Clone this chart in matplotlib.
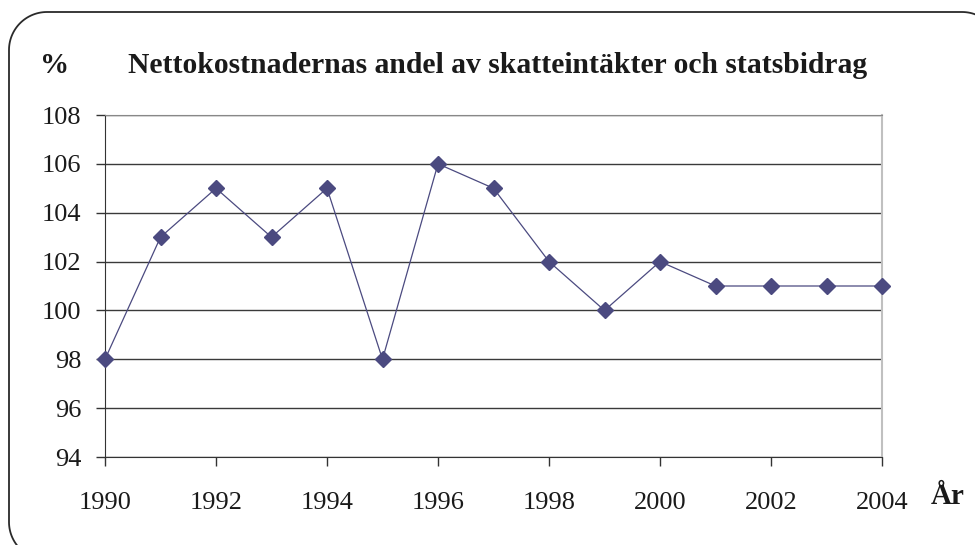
import matplotlib
matplotlib.use("Agg")
import matplotlib.pyplot as plt
import numpy as np
from matplotlib.lines import Line2D

years = [1990, 1991, 1992, 1993, 1994, 1995, 1996, 1997, 1998, 1999, 2000, 2001, 2002, 2003, 2004]
values = [98, 103, 105, 103, 105, 98, 106, 105, 102, 100, 102, 101, 101, 101, 101]
yticks = [94, 96, 98, 100, 102, 104, 106, 108]
xticks = [1990, 1992, 1994, 1996, 1998, 2000, 2002, 2004]
title = "Nettokostnadernas andel av skatteintäkter och statsbidrag"

plt.rcParams['font.family'] = ['Liberation Serif', 'DejaVu Serif']

fig = plt.figure(figsize=(9.75, 5.45), dpi=100)
W, H = 975, 545

# rounded frame in pixel coordinates (y from top), running off the right and bottom edges
x0, y0, x1, y1, r = 9, 12, 1000, 560, 38
def arc(cx, cy, a0, a1, n=30):
    t = np.radians(np.linspace(a0, a1, n))
    return cx + r * np.cos(t), cy + r * np.sin(t)
segs = []
xa, ya = arc(x1 - r, y0 + r, -90, 0)          # top-right
xb, yb = arc(x0 + r, y0 + r, -90, -180)       # top-left
xc, yc = arc(x0 + r, y1 - r, 180, 90)         # bottom-left
xs = np.concatenate([xa[::-1], xb, xc])
ys = np.concatenate([ya[::-1], yb, yc])
fig.add_artist(Line2D(xs / W, 1 - ys / H, transform=fig.transFigure,
                      color="#2a2a2a", linewidth=1.3, clip_on=False))

ax = fig.add_axes([105 / W, 1 - 457 / H, (882 - 105) / W, (457 - 115) / H])
ax.plot(years, values, color="#4b4a80", linewidth=0.9, marker="D",
        markersize=8.5, markerfacecolor="#4b4a80", markeredgecolor="#4b4a80",
        clip_on=False, zorder=3)

ax.set_xlim(1990, 2004)
ax.set_ylim(94, 108)
ax.set_yticks(yticks)
ax.set_xticks(xticks)
ax.set_xticklabels([str(x) for x in xticks])
ax.set_yticklabels([str(y) for y in yticks])
ax.yaxis.grid(True, color="#3a3a3a", linewidth=1.0)
ax.set_axisbelow(True)

ax.spines["top"].set_color("#888888")
ax.spines["right"].set_color("#c0c0c0")
ax.spines["right"].set_linewidth(1.5)
ax.spines["left"].set_color("#333333")
ax.spines["bottom"].set_color("#333333")
ax.tick_params(axis="both", direction="out", length=6.5, width=1, color="#333333",
               labelsize=19, labelcolor="#1a1a1a")
ax.tick_params(axis="x", pad=19)
ax.tick_params(axis="y", pad=10.5)

fig.text(40 / W, 1 - 73 / H, "%", fontsize=21, fontweight="bold",
         ha="left", va="baseline", color="#1a1a1a")
fig.text(497.5 / W, 1 - 73 / H, title, fontsize=21.3, fontweight="bold",
         ha="center", va="baseline", color="#1a1a1a")
fig.text(947.5 / W, 1 - 497 / H, "År", fontsize=21, fontweight="bold",
         ha="center", va="center", color="#1a1a1a")

fig.savefig("out.png", dpi=100)
